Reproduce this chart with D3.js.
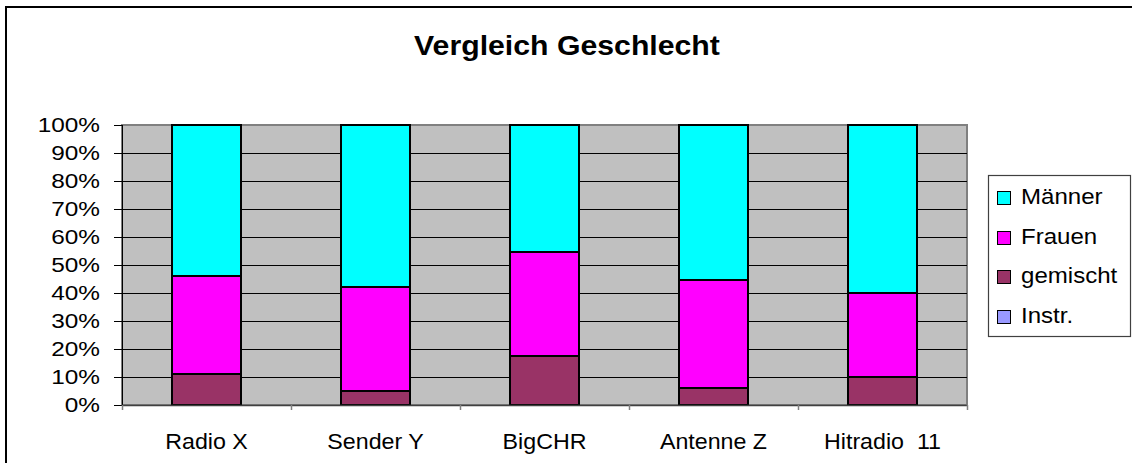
<!DOCTYPE html>
<html>
<head>
<meta charset="utf-8">
<script src="https://cdn.jsdelivr.net/npm/d3@7"></script>
<style>
  body { margin: 0; background: #fff; }
  text { font-family: Arial, "Liberation Sans", sans-serif; fill: #000; }
</style>
</head>
<body>
<div id="chart"></div>
<script>
// data (percent of songs per station)
var categories = ["Radio X", "Sender Y", "BigCHR", "Antenne Z", "Hitradio  11"];
var instr    = [0, 0, 0, 0, 0];
var gemischt = [11, 5, 17.6, 6.2, 10];
var frauen   = [35, 37, 37.2, 38.4, 30];
var maenner  = [54, 58, 45.2, 55.4, 60];
var yTicks = [0, 10, 20, 30, 40, 50, 60, 70, 80, 90, 100];

// series bottom to top, legend is shown reversed
var seriesNames = ["Instr.", "gemischt", "Frauen", "Männer"];
var seriesColors = ["#9999ff", "#993366", "#ff00ff", "#00ffff"];

var rows = categories.map(function(c, i) {
  return { cat: c, "Instr.": instr[i], gemischt: gemischt[i], Frauen: frauen[i], "Männer": maenner[i] };
});

var W = 1132, H = 463;
var plot = { left: 122, right: 967, top: 125, bottom: 405 };

var svg = d3.select("#chart").append("svg")
  .attr("width", W)
  .attr("height", H);

// outer chart frame
svg.append("rect")
  .attr("x", 6).attr("y", 7)
  .attr("width", 1140).attr("height", 480)
  .attr("fill", "#fff")
  .attr("stroke", "#000")
  .attr("stroke-width", 2);

// title
svg.append("text")
  .attr("transform", "translate(567,55) scale(1.12,1)")
  .attr("text-anchor", "middle")
  .style("font-size", "27px")
  .style("font-weight", "bold")
  .text("Vergleich Geschlecht");

var x = d3.scaleBand()
  .domain(categories)
  .range([plot.left, plot.right])
  .paddingInner(0.592)
  .paddingOuter(0.296);

var y = d3.scaleLinear()
  .domain([0, 100])
  .range([plot.bottom, plot.top]);

// plot background
svg.append("rect")
  .attr("x", plot.left).attr("y", plot.top)
  .attr("width", plot.right - plot.left)
  .attr("height", plot.bottom - plot.top)
  .attr("fill", "#c0c0c0")
  .attr("stroke", "#808080")
  .attr("stroke-width", 2);

// gridlines
svg.append("g")
  .selectAll("line")
  .data(yTicks.filter(function(d) { return d > 0 && d < 100; }))
  .enter()
  .append("line")
  .attr("x1", plot.left).attr("x2", plot.right)
  .attr("y1", function(d) { return Math.round(y(d)) + 0.5; })
  .attr("y2", function(d) { return Math.round(y(d)) + 0.5; })
  .attr("stroke", "#000")
  .attr("stroke-width", 1);

// stacked bars
var stack = d3.stack().keys(seriesNames);
var layers = stack(rows);

svg.append("g")
  .selectAll("g")
  .data(layers)
  .enter()
  .append("g")
  .attr("fill", function(d, i) { return seriesColors[i]; })
  .selectAll("rect")
  .data(function(d) { return d; })
  .enter()
  .append("rect")
  .attr("x", function(d) { return Math.round(x(d.data.cat)); })
  .attr("width", Math.round(x.bandwidth()))
  .attr("y", function(d) { return Math.round(y(d[1])); })
  .attr("height", function(d) { return Math.round(y(d[0])) - Math.round(y(d[1])); })
  .attr("stroke", "#000")
  .attr("stroke-width", 2);

// y axis
var yAxis = svg.append("g");
yAxis.append("line")
  .attr("x1", plot.left + 0.5).attr("x2", plot.left + 0.5)
  .attr("y1", plot.top).attr("y2", plot.bottom)
  .attr("stroke", "#000");
yAxis.selectAll("line.tick")
  .data(yTicks)
  .enter()
  .append("line")
  .attr("class", "tick")
  .attr("x1", plot.left - 8).attr("x2", plot.left)
  .attr("y1", function(d) { return Math.round(y(d)) + 0.5; })
  .attr("y2", function(d) { return Math.round(y(d)) + 0.5; })
  .attr("stroke", "#000");
yAxis.selectAll("text")
  .data(yTicks)
  .enter()
  .append("text")
  .attr("transform", function(d) { return "translate(100," + (y(d) + 7) + ") scale(1.25,1)"; })
  .attr("text-anchor", "end")
  .style("font-size", "19.5px")
  .text(function(d) { return d + "%"; });

// x axis
var xAxis = svg.append("g");
xAxis.append("line")
  .attr("x1", plot.left).attr("x2", plot.right)
  .attr("y1", plot.bottom + 0.5).attr("y2", plot.bottom + 0.5)
  .attr("stroke", "#404040")
  .attr("stroke-width", 1.5);
xAxis.selectAll("line.tick")
  .data(d3.range(categories.length + 1))
  .enter()
  .append("line")
  .attr("class", "tick")
  .attr("x1", function(i) { return Math.round(plot.left + i * x.step()) + 0.5; })
  .attr("x2", function(i) { return Math.round(plot.left + i * x.step()) + 0.5; })
  .attr("y1", plot.bottom).attr("y2", plot.bottom + 5)
  .attr("stroke", "#808080")
  .attr("stroke-width", 1.5);
xAxis.selectAll("text")
  .data(categories)
  .enter()
  .append("text")
  .attr("transform", function(d) { return "translate(" + (x(d) + x.bandwidth() / 2) + ",448.5) scale(1.08,1)"; })
  .attr("text-anchor", "middle")
  .style("font-size", "21.5px")
  .style("white-space", "pre")
  .text(function(d) { return d; });

// legend
var legend = svg.append("g");
legend.append("rect")
  .attr("x", 988.5).attr("y", 175.5)
  .attr("width", 142).attr("height", 161)
  .attr("fill", "#fff")
  .attr("stroke", "#404040")
  .attr("stroke-width", 1.2);

var legendItems = seriesNames.slice().reverse();
var legendRow = legend.selectAll("g")
  .data(legendItems)
  .enter()
  .append("g")
  .attr("transform", function(d, i) { return "translate(997," + Math.round(197 + i * 39.7) + ")"; });
legendRow.append("rect")
  .attr("x", 0.5).attr("y", -5.5)
  .attr("width", 13).attr("height", 13)
  .attr("fill", function(d) { return seriesColors[seriesNames.indexOf(d)]; })
  .attr("stroke", "#000")
  .attr("stroke-width", 1);
legendRow.append("text")
  .attr("transform", "translate(24,7) scale(1.12,1)")
  .style("font-size", "21.5px")
  .text(function(d) { return d; });
</script>
</body>
</html>
